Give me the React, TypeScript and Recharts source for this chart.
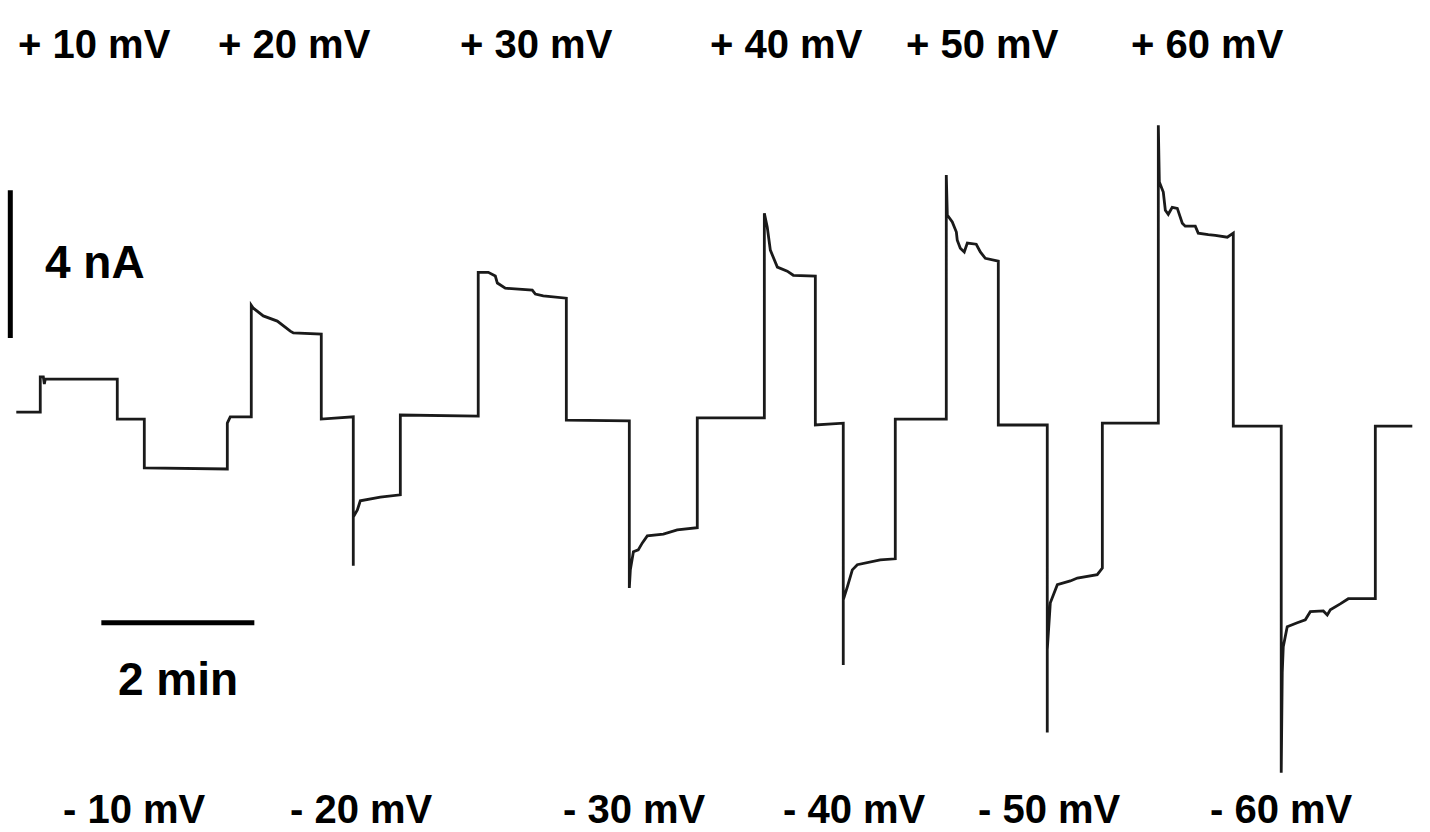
import React from 'react';
import { LineChart, Line, XAxis, YAxis, ReferenceLine } from 'recharts';

// current trace, [time (s), current (nA)], one array per voltage step
const step10: [number, number][] = [
  [0, 0.08], [18.8, 0.08], [18.8, 1.03], [21.2, 1.03], [22.0, 0.84], [22.7, 0.97], [79.2, 0.97], [79.2, -0.11],
];
const stepMinus10: [number, number][] = [
  [100.4, -0.11], [100.4, -1.43], [165.5, -1.46], [165.5, -0.22], [167.8, -0.05],
];
const step20: [number, number][] = [
  [184.3, -0.05], [184.3, 2.97], [185.9, 2.89], [193.7, 2.68], [204.7, 2.54], [214.9, 2.27], [217.3, 2.22],
  [239.2, 2.19], [239.2, -0.11],
];
const stepMinus20: [number, number][] = [
  [264.3, -0.05], [264.3, -4.08], [264.3, -2.76], [267.5, -2.57], [269.8, -2.32], [285.5, -2.22], [301.2, -2.16],
  [301.2, 0],
];
const step30: [number, number][] = [
  [362.3, -0.03], [362.3, 3.86], [370.2, 3.86], [375.7, 3.76], [377.3, 3.57], [383.5, 3.43], [404.7, 3.38],
  [407.1, 3.27], [413.3, 3.22], [431.4, 3.16], [431.4, -0.14],
];
const stepMinus30: [number, number][] = [
  [480.8, -0.16], [480.8, -4.68], [481.6, -4.19], [484.0, -3.7], [487.8, -3.65], [491.0, -3.46], [494.9, -3.27],
  [507.5, -3.22], [518.4, -3.11], [534.1, -3.05], [534.1, -0.08],
];
const step40: [number, number][] = [
  [586.7, -0.08], [586.7, 5.46], [589.0, 5.08], [591.4, 4.46], [596.9, 4.0], [604.7, 3.89], [609.4, 3.78],
  [626.7, 3.76], [626.7, -0.27],
];
const stepMinus40: [number, number][] = [
  [648.6, -0.22], [648.6, -6.76], [648.6, -5.0], [651.8, -4.65], [655.7, -4.19], [659.6, -4.05], [677.6, -3.92],
  [689.4, -3.89], [689.4, -0.11],
];
const step50: [number, number][] = [
  [729.4, -0.11], [729.4, 6.49], [730.2, 5.41], [734.1, 5.22], [737.3, 4.95], [738.0, 4.73], [740.4, 4.51],
  [743.5, 4.41], [745.9, 4.65], [752.9, 4.62], [756.1, 4.41], [760.0, 4.24], [770.2, 4.16], [770.2, -0.27],
];
const stepMinus50: [number, number][] = [
  [808.6, -0.27], [808.6, -8.59], [808.6, -6.35], [811.0, -5.08], [816.5, -4.59], [826.7, -4.49], [832.2, -4.41],
  [847.8, -4.32], [851.8, -4.14], [851.8, -0.22],
];
const step60: [number, number][] = [
  [895.7, -0.22], [895.7, 7.84], [896.5, 6.3], [899.6, 6.03], [901.2, 5.54], [903.5, 5.43], [906.6, 5.62],
  [910.6, 5.59], [914.5, 5.19], [916.8, 5.11], [924.7, 5.11], [927.0, 4.92], [934.9, 4.88], [940.4, 4.86],
  [949.8, 4.81], [954.5, 4.92], [954.5, -0.3],
];
const stepMinus60: [number, number][] = [
  [992.1, -0.3], [992.1, -9.68], [992.9, -6.97], [993.7, -6.27], [996.8, -5.73], [1004.7, -5.62], [1011.0, -5.54],
  [1014.9, -5.32], [1025.1, -5.3], [1028.2, -5.41], [1030.6, -5.27], [1038.4, -5.11], [1044.7, -4.97],
  [1065.9, -4.97], [1065.9, -0.3], [1094.9, -0.3],
];

const positiveLabels = ['+ 10 mV', '+ 20 mV', '+ 30 mV', '+ 40 mV', '+ 50 mV', '+ 60 mV'];
const negativeLabels = ['- 10 mV', '- 20 mV', '- 30 mV', '- 40 mV', '- 50 mV', '- 60 mV'];

// scale bars: 4 nA, 2 min
const currentBar = { t: -4.7, from: 2.08, to: 6.08, label: '4 nA' };
const timeBar = { i: -5.62, from: 66.7, to: 186.7, label: '2 min' };

const trace = [
  ...step10, ...stepMinus10, ...step20, ...stepMinus20, ...step30, ...stepMinus30,
  ...step40, ...stepMinus40, ...step50, ...stepMinus50, ...step60, ...stepMinus60,
].map(([t, i]) => ({ t, i }));

// label placement (px)
const topX = [18, 218, 460, 710, 906, 1131];
const bottomX = [63, 290, 563, 783, 978, 1210];

const font = '"Liberation Sans", Arial, Helvetica, sans-serif';

const App: React.FC = () => {
  return (
    <div style={{ position: 'absolute', left: 0, top: 0, width: 1430, height: 832, background: '#fff' }}>
      <LineChart width={1430} height={832} data={trace} margin={{ top: 1, right: 1, bottom: 3, left: 1 }}>
        <XAxis dataKey="t" type="number" domain={[-12, 1108]} hide />
        <YAxis type="number" domain={[-11.2, 11.2]} hide />
        <ReferenceLine
          segment={[{ x: currentBar.t, y: currentBar.from }, { x: currentBar.t, y: currentBar.to }]}
          stroke="#000"
          strokeWidth={5}
          ifOverflow="visible"
        />
        <ReferenceLine
          segment={[{ x: timeBar.from, y: timeBar.i }, { x: timeBar.to, y: timeBar.i }]}
          stroke="#000"
          strokeWidth={5}
          ifOverflow="visible"
        />
        <Line
          type="linear"
          dataKey="i"
          stroke="#1a1a1a"
          strokeWidth={2.8}
          dot={false}
          isAnimationActive={false}
        />
      </LineChart>
      <svg
        width={1430}
        height={832}
        style={{ position: 'absolute', left: 0, top: 0, pointerEvents: 'none' }}
      >
        <g fontFamily={font} fontWeight="bold" fontSize={40} fill="#000">
          {positiveLabels.map((s, k) => (
            <text key={s} x={topX[k]} y={58}>{s}</text>
          ))}
          {negativeLabels.map((s, k) => (
            <text key={s} x={bottomX[k]} y={823}>{s}</text>
          ))}
        </g>
        <g fontFamily={font} fontWeight="bold" fontSize={46} fill="#000">
          <text x={45} y={278}>{currentBar.label}</text>
          <text x={118} y={695}>{timeBar.label}</text>
        </g>
      </svg>
    </div>
  );
};

export default App;
